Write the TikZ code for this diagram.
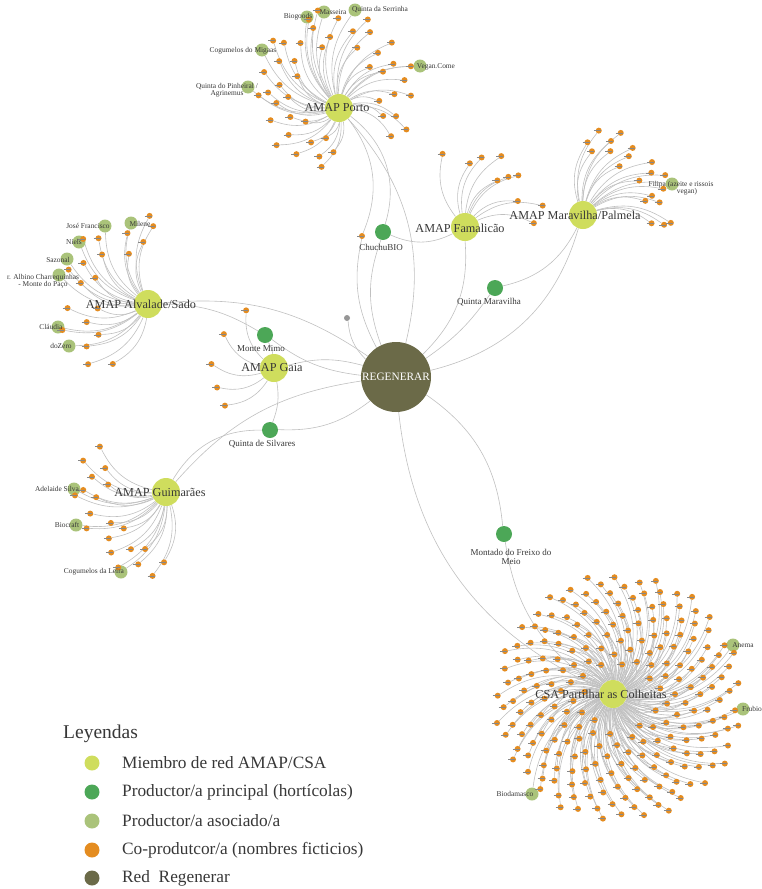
\documentclass[tikz,border=0pt]{standalone}
\usepackage{fontspec}
\setmainfont{Liberation Serif}
\usetikzlibrary{calc}

\pgfdeclarelayer{links}
\pgfsetlayers{links,main}

\definecolor{colNetwork}{RGB}{107,106,72}
\definecolor{colMember}{RGB}{207,221,93}
\definecolor{colPrincipal}{RGB}{76,167,87}
\definecolor{colAssociated}{RGB}{170,195,122}
\definecolor{colCoproducer}{RGB}{228,140,32}
\definecolor{colStray}{RGB}{150,150,150}
\definecolor{colLink}{RGB}{192,192,192}
\definecolor{colStub}{RGB}{135,135,135}
\definecolor{colLabel}{RGB}{55,55,55}

% Co-producers spread round a centre:
% prefix, centre, count, inner radius, outer radius, first angle, last angle.
\newcommand{\coproducers}[7]{%
  \foreach \i in {1,...,#3} {
    \pgfmathsetmacro{\ang}{#6 + (#7 - #6) * frac(\i * 0.618034) + 2 * (#7 - #6) / #3 * (rnd - 0.5)}
    \pgfmathsetmacro{\rad}{sqrt(#4 * #4 + (#5 * #5 - #4 * #4) / #3 * (\i - rnd))}
    \pgfmathsetmacro{\dx}{\rad * cos(\ang)}
    \pgfmathsetmacro{\dy}{-\rad * sin(\ang)}
    \node at ($(#2) + (\dx, \dy)$) [coproducer, name=#1-\i] {};
    \draw [namestub] (#1-\i) +(-5, 0) -- +(2, 0);
  }%
}
% Links from a hub to its co-producers: hub, prefix, count, bend.
\newcommand{\coproducerlinks}[4]{%
  \foreach \i in {1,...,#3}
    \draw [connection] (#1) to [#4] (#2-\i);
}

\pgfmathsetseed{11}

\begin{document}
\begin{tikzpicture}[x=1pt, y=-1pt,
    network/.style = {circle, fill=colNetwork, minimum size=70pt, inner sep=0pt},
    member/.style = {circle, fill=colMember, minimum size=28pt, inner sep=0pt},
    principal/.style = {circle, fill=colPrincipal, minimum size=16pt, inner sep=0pt},
    associated/.style = {circle, fill=colAssociated, minimum size=13pt, inner sep=0pt},
    coproducer/.style = {circle, fill=colCoproducer, minimum size=6pt, inner sep=0pt},
    stray/.style = {circle, fill=colStray, minimum size=6pt, inner sep=0pt},
    connection/.style = {draw=colLink, line width=0.6pt},
    namestub/.style = {draw=colStub, line width=0.4pt},
    memberlabel/.style = {text=colLabel, inner sep=0pt, font=\fontsize{12.2}{14}\selectfont},
    principallabel/.style = {text=colLabel, inner sep=0pt, align=center, font=\fontsize{9}{9.5}\selectfont},
    associatedlabel/.style = {text=colLabel, inner sep=0pt, align=center, font=\fontsize{7.4}{7.2}\selectfont},
    legendtext/.style = {text=colLabel, anchor=west, inner sep=0pt, font=\fontsize{17.3}{20}\selectfont},
    legenddot/.style = {circle, minimum size=15pt, inner sep=0pt}]
  \useasboundingbox (0, 0) rectangle (762, 889);

  % Network.
  \node at (396, 377) [network, name=Regenerar] {};

  % Members.
  \node at (339, 108) [member, name=AmapPorto] {};
  \node at (465, 227) [member, name=AmapFamalicao] {};
  \node at (583, 215) [member, name=AmapMaravilha] {};
  \node at (148, 304) [member, name=AmapAlvalade] {};
  \node at (274, 368) [member, name=AmapGaia] {};
  \node at (166, 492) [member, name=AmapGuimaraes] {};
  \node at (613, 694) [member, name=CsaPartilhar] {};

  % Principal producers.
  \node at (383, 232) [principal, name=ChuchuBio] {};
  \node at (495, 288) [principal, name=QuintaMaravilha] {};
  \node at (265, 335) [principal, name=MonteMimo] {};
  \node at (270, 430) [principal, name=QuintaSilvares] {};
  \node at (504, 534) [principal, name=MontadoFreixo] {};
  \node at (347, 318) [stray, name=Unlinked] {};

  % Associated producers.
  \node at (307, 17) [associated, name=Biogoods] {};
  \node at (324, 12) [associated, name=Masseira] {};
  \node at (355, 10) [associated, name=Serrinha] {};
  \node at (262, 50) [associated, name=Migaas] {};
  \node at (420, 66) [associated, name=VeganCome] {};
  \node at (248, 87) [associated, name=Pinheiral] {};
  \node at (105, 226) [associated, name=JoseFrancisco] {};
  \node at (131, 223) [associated, name=Milene] {};
  \node at (79, 242) [associated, name=Niels] {};
  \node at (67, 259) [associated, name=Sazonal] {};
  \node at (59, 275) [associated, name=Albino] {};
  \node at (58, 327) [associated, name=Claudia] {};
  \node at (69, 346) [associated, name=DoZero] {};
  \node at (74, 489) [associated, name=Adelaide] {};
  \node at (76, 525) [associated, name=Biocraft] {};
  \node at (121, 572) [associated, name=Leira] {};
  \node at (672, 184) [associated, name=Filipa] {};
  \node at (733, 645) [associated, name=Anema] {};
  \node at (743, 709) [associated, name=Frubio] {};
  \node at (532, 794) [associated, name=Biodamasco] {};

  % Co-producers.
  \coordinate (PortoSpread) at (335, 90);
  \coordinate (CsaSpread) at (619, 698);
  \coproducers{porto}{PortoSpread}{47}{40}{82}{-40}{280}
  \coproducers{famalicao}{AmapFamalicao}{10}{55}{82}{0}{105}
  \coproducers{maravilha}{AmapMaravilha}{20}{60}{92}{-15}{95}
  \coproducers{alvalade}{AmapAlvalade}{20}{50}{92}{75}{245}
  \coproducers{gaia}{AmapGaia}{5}{59}{65}{111}{219}
  \coproducers{guimaraes}{AmapGuimaraes}{20}{55}{92}{140}{275}
  \coproducers{csa}{CsaSpread}{230}{32}{125}{0}{360}
  \node at (362, 236) [coproducer, name=PortoStray] {};
  \draw [namestub] (PortoStray) +(-5, 0) -- +(2, 0);

  \begin{pgfonlayer}{links}
    % Co-producers to their members.
    \coproducerlinks{AmapPorto}{porto}{47}{bend left=25}
    \coproducerlinks{AmapFamalicao}{famalicao}{10}{bend left=25}
    \coproducerlinks{AmapMaravilha}{maravilha}{20}{bend left=25}
    \coproducerlinks{AmapAlvalade}{alvalade}{20}{bend left=25}
    \coproducerlinks{AmapGaia}{gaia}{5}{bend left=25}
    \coproducerlinks{AmapGuimaraes}{guimaraes}{20}{bend left=25}
    \coproducerlinks{CsaPartilhar}{csa}{230}{bend right=30}

    % Associated producers to their members.
    \foreach \who in {Biogoods, Masseira, Serrinha, Migaas, VeganCome, Pinheiral}
      \draw [connection] (AmapPorto) to [bend left=25] (\who);
    \foreach \who in {JoseFrancisco, Milene, Niels, Sazonal, Albino, Claudia, DoZero}
      \draw [connection] (AmapAlvalade) to [bend left=25] (\who);
    \foreach \who in {Adelaide, Biocraft, Leira}
      \draw [connection] (AmapGuimaraes) to [bend left=25] (\who);
    \draw [connection] (AmapMaravilha) to [bend left=25] (Filipa);
    \foreach \who in {Anema, Frubio, Biodamasco}
      \draw [connection] (CsaPartilhar) to [bend right=30] (\who);

    % Network links.
    \draw [connection] (AmapPorto)
               to [bend left=28]
               (Regenerar);
    \draw [connection] (AmapPorto)
               to [bend left=35]
               (ChuchuBio);
    \draw [connection] (AmapPorto)
               to [bend left=30]
               (PortoStray);
    \draw [connection] (PortoStray)
               to [bend right=20]
               (Regenerar);
    \draw [connection] (ChuchuBio)
               to [bend right=20]
               (Regenerar);
    \draw [connection] (ChuchuBio)
               to [bend right=25]
               (AmapFamalicao);
    \draw [connection] (AmapFamalicao)
               to [bend left=25]
               (Regenerar);
    \draw [connection] (AmapMaravilha)
               to [bend left=25]
               (QuintaMaravilha);
    \draw [connection] (AmapMaravilha)
               to [bend left=30]
               (Regenerar);
    \draw [connection] (QuintaMaravilha)
               to [bend left=10]
               (Regenerar);
    \draw [connection] (AmapAlvalade)
               to [bend left=20]
               (Regenerar);
    \draw [connection] (AmapAlvalade)
               to [bend left=15]
               (MonteMimo);
    \draw [connection] (MonteMimo)
               to [bend left=10]
               (AmapGaia);
    \draw [connection] (MonteMimo)
               to [bend right=15]
               (Regenerar);
    \draw [connection] (AmapGaia)
               to [bend left=15]
               (Regenerar);
    \draw [connection] (AmapGaia)
               to [bend left=15]
               (QuintaSilvares);
    \draw [connection] (QuintaSilvares)
               to [bend right=20]
               (Regenerar);
    \draw [connection] (AmapGuimaraes)
               to [bend left=30]
               (QuintaSilvares);
    \draw [connection] (AmapGuimaraes)
               to [bend left=20]
               (Regenerar);
    \draw [connection] (Unlinked)
               to [bend right=20]
               (Regenerar);
    \draw [connection] (Regenerar)
               to [bend left=25]
               (MontadoFreixo);
    \draw [connection] (MontadoFreixo)
               to [bend right=25]
               (CsaPartilhar);
    \draw [connection] (Regenerar)
               to [bend right=30]
               (CsaPartilhar);
  \end{pgfonlayer}

  % Labels.
  \node at (396, 377) [memberlabel, text=white, font=\fontsize{11.3}{13}\selectfont, name=RegenerarText] {REGENERAR};
  \node at (337, 108) [memberlabel, name=AmapPortoText] {AMAP Porto};
  \node at (460, 228) [memberlabel, name=AmapFamalicaoText] {AMAP Famalicão};
  \node at (575, 215) [memberlabel, name=AmapMaravilhaText] {AMAP Maravilha/Palmela};
  \node at (141, 304) [memberlabel, name=AmapAlvaladeText] {AMAP Alvalade/Sado};
  \node at (272, 368) [memberlabel, name=AmapGaiaText] {AMAP Gaia};
  \node at (160, 492) [memberlabel, name=AmapGuimaraesText] {AMAP Guimarães};
  \node at (601, 694) [memberlabel, name=CsaPartilharText] {CSA Partilhar as Colheitas};

  \node at (381, 247) [principallabel, name=ChuchuBioText] {ChuchuBIO};
  \node at (489, 302) [principallabel, name=QuintaMaravilhaText] {Quinta Maravilha};
  \node at (261, 349) [principallabel, name=MonteMimoText] {Monte Mimo};
  \node at (262, 444) [principallabel, name=QuintaSilvaresText] {Quinta de Silvares};
  \node at (511, 557) [principallabel, name=MontadoFreixoText] {Montado do Freixo do\\Meio};

  \node at (298, 17) [associatedlabel, name=BiogoodsText] {Biogoods};
  \node at (333, 12) [associatedlabel, name=MasseiraText] {Masseira};
  \node at (380, 10) [associatedlabel, name=SerrinhaText] {Quinta da Serrinha};
  \node at (243, 51) [associatedlabel, name=MigaasText] {Cogumelos do Migaas};
  \node at (436, 67) [associatedlabel, name=VeganComeText] {Vegan.Come};
  \node at (227, 90) [associatedlabel, name=PinheiralText] {Quinta do Pinheiral /\\Agrinemus};
  \node at (88, 226) [associatedlabel, name=JoseFranciscoText] {José Francisco};
  \node at (140, 224) [associatedlabel, name=MileneText] {Milene};
  \node at (74, 242) [associatedlabel, name=NielsText] {Niels};
  \node at (58, 260) [associatedlabel, name=SazonalText] {Sazonal};
  \node at (43, 281) [associatedlabel, name=AlbinoText] {r. Albino Charrequinhas\\- Monte do Paço};
  \node at (51, 327) [associatedlabel, name=ClaudiaText] {Cláudia};
  \node at (61, 346) [associatedlabel, name=DoZeroText] {doZero};
  \node at (57, 489) [associatedlabel, name=AdelaideText] {Adelaide Silva};
  \node at (67, 525) [associatedlabel, name=BiocraftText] {Biocraft};
  \node at (94, 572) [associatedlabel, name=LeiraText] {Cogumelos da Leira};
  \node at (681, 188) [associatedlabel, name=FilipaText] {Filipa (azeite e rissois\\\hspace*{1.6em}vegan)};
  \node at (743, 645) [associatedlabel, name=AnemaText] {Anema};
  \node at (752, 709) [associatedlabel, name=FrubioText] {Frubio};
  \node at (515, 794) [associatedlabel, name=BiodamascoText] {Biodamasco};

  % Legend.
  \node at (63, 734) [legendtext, font=\fontsize{19.5}{22}\selectfont, name=LegendTitle] {Leyendas};
  \node at (92, 763) [legenddot, fill=colMember, name=KeyMember] {};
  \node at (122, 763) [legendtext, name=KeyMemberText] {Miembro de red AMAP/CSA};
  \node at (92, 792) [legenddot, fill=colPrincipal, name=KeyPrincipal] {};
  \node at (122, 792) [legendtext, name=KeyPrincipalText] {Productor/a principal (hortícolas)};
  \node at (92, 821) [legenddot, fill=colAssociated, name=KeyAssociated] {};
  \node at (122, 821) [legendtext, name=KeyAssociatedText] {Productor/a asociado/a};
  \node at (92, 850) [legenddot, fill=colCoproducer, name=KeyCoproducer] {};
  \node at (122, 850) [legendtext, name=KeyCoproducerText] {Co-produtcor/a (nombres ficticios)};
  \node at (92, 878) [legenddot, fill=colNetwork, name=KeyNetwork] {};
  \node at (122, 878) [legendtext, name=KeyNetworkText] {Red\ \ Regenerar};
\end{tikzpicture}
\end{document}
